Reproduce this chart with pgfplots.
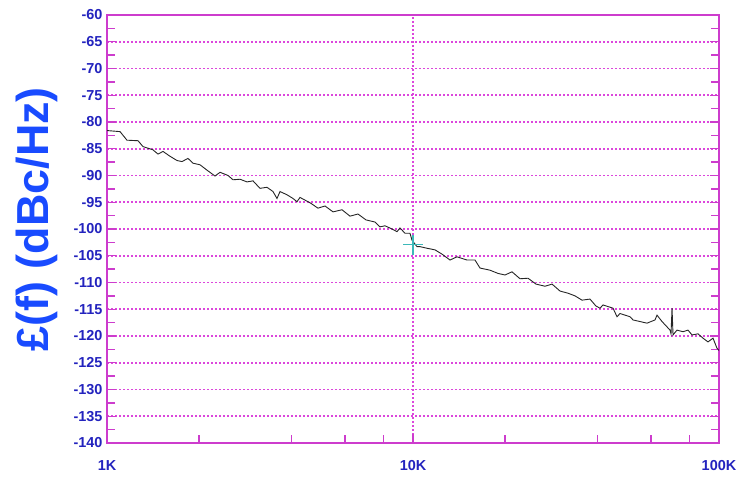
\documentclass[border=0pt]{standalone}
\usepackage{fontspec}
\setmainfont{Liberation Sans}
\usepackage{pgfplots}
\pgfplotsset{compat=1.18}
\definecolor{frame}{RGB}{205,60,205}
\definecolor{gridc}{RGB}{220,70,220}
\definecolor{ticktxt}{RGB}{35,35,190}
\definecolor{labtxt}{RGB}{25,75,255}
\definecolor{cursor}{RGB}{60,185,185}
\begin{document}
\begin{tikzpicture}
\begin{axis}[
    xmode=log,
    scale only axis,
    width=612bp, height=428bp,
    at={(0,0)}, anchor=south west,
    xmin=1000, xmax=100000,
    ymin=-140, ymax=-60,
    xtick={1000,10000,100000},
    xticklabels={1K,10K,100K},
    minor xtick={2000,4000,6000,8000,20000,40000,60000,80000},
    ytick={-140,-135,...,-60},
    yticklabels={-140,-135,-130,-125,-120,-115,-110,-105,-100,-95,-90,-85,-80,-75,-70,-65,-60},
    minor ytick={-137.5,-132.5,...,-62.5},
    xtick pos=bottom,
    ytick pos=both,
    tick align=inside,
    major tick length=9bp,
    minor tick length=8bp,
    axis line style={draw=frame, line width=1.6bp},
    every tick/.style={draw=frame, line width=1.4bp},
    xmajorgrids, ymajorgrids,
    major grid style={draw=gridc, line width=1.8bp, dash pattern=on 2bp off 2bp},
    ticklabel style={font=\fontsize{14.5}{14.5}\selectfont\bfseries, text=ticktxt},
    xticklabel style={yshift=-14bp},
    yticklabel style={xshift=-1bp},
    ylabel={£(f) (dBc/Hz)},
    ylabel style={at={(axis description cs:-0.0964,0.523)}, anchor=base,
        font=\fontsize{45}{45}\selectfont\bfseries, text=labtxt},
]
\addplot[black!85, line width=0.9bp] coordinates {
(1000,-81.6) (1103,-81.8) (1162,-83.4) (1263,-83.5) (1311,-84.6) (1413,-85.2)
(1468,-86.0) (1524,-85.5) (1606,-86.4) (1694,-87.2) (1759,-87.4) (1839,-86.8)
(1910,-87.7) (2014,-88.0) (2122,-89.0) (2254,-90.1) (2341,-89.4) (2486,-90.0)
(2581,-90.8) (2721,-90.7) (2868,-91.2) (3000,-91.0) (3162,-92.4) (3333,-92.2)
(3487,-93.0) (3594,-94.3) (3676,-93.0) (3875,-93.6) (4054,-94.3) (4177,-94.9)
(4272,-94.1) (4607,-95.1) (4892,-96.1) (5158,-95.7) (5478,-96.8) (5861,-96.4)
(6225,-97.6) (6610,-97.2) (7020,-98.3) (7513,-98.7) (7801,-99.6) (8098,-99.4)
(8540,-100.0) (8866,-100.5) (9068,-99.8) (9416,-100.8) (9777,-100.8) (9924,-102.1)
(10306,-103.3) (10541,-103.3) (11112,-103.6) (11800,-103.9) (12440,-104.7)
(13212,-105.8) (13925,-105.2) (15013,-105.8) (15946,-105.8) (16558,-107.3)
(17851,-107.7) (18956,-108.3) (19982,-108.6) (21063,-108.0) (22370,-109.3)
(23757,-109.2) (25236,-110.3) (27003,-110.7) (28470,-110.3) (30232,-111.6)
(32101,-112.0) (33843,-112.5) (35672,-113.3) (37874,-113.1) (39627,-114.4)
(40843,-114.8) (41778,-114.2) (45048,-114.8) (46416,-116.4) (47480,-115.8)
(51192,-116.4) (52360,-117.0) (55199,-117.3) (58180,-117.6) (61774,-117.0)
(62719,-116.1) (65144,-117.3) (67638,-118.3) (69183,-118.9) (69695,-119.6)
(70226,-114.8) (70756,-119.8) (72901,-118.9) (76265,-119.2) (79190,-118.9)
(81620,-119.8) (85379,-119.6) (88637,-120.4) (92045,-121.1) (95574,-120.4)
(98510,-122.3) (100000,-122.7)
};
\addplot[cursor, only marks, mark=+, mark size=10bp, line width=1.3bp]
    coordinates {(10000,-102.9)};
\end{axis}
\pgfresetboundingbox
\path (-107bp,-37bp) rectangle (640bp,443bp);
\end{tikzpicture}
\end{document}
